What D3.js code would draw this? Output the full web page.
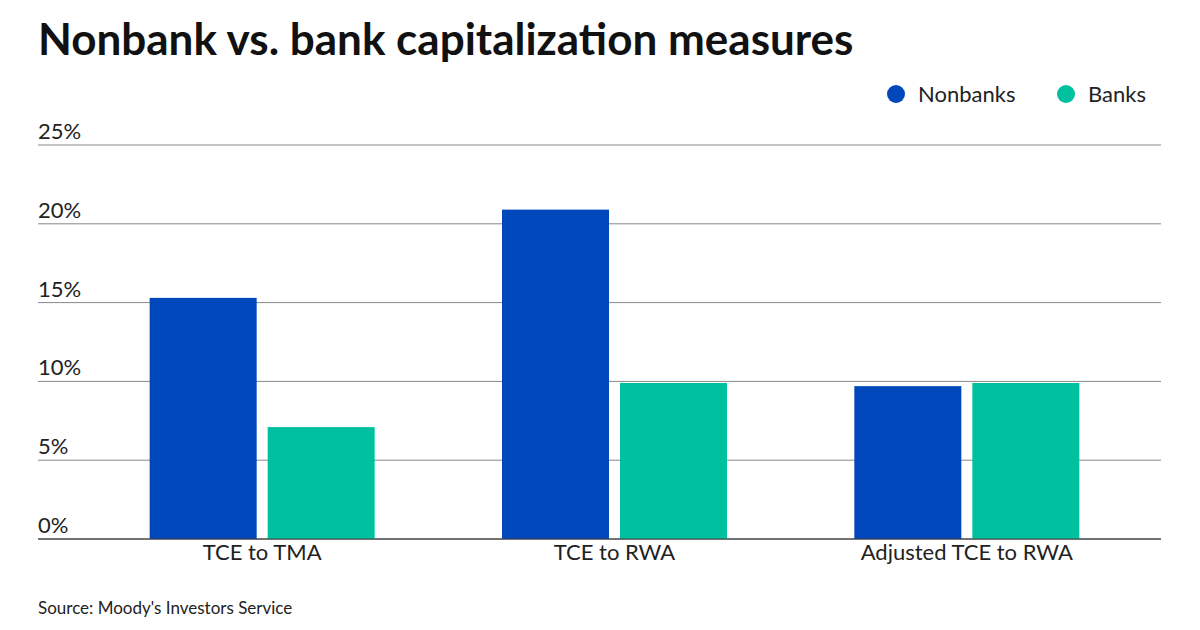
<!DOCTYPE html>
<html><head><meta charset="utf-8">
<script src="https://cdn.jsdelivr.net/npm/d3@7"></script>
<style>body{margin:0;background:#fff}text{font-family:Lato,sans-serif}</style>
</head><body><svg id="c" width="1200" height="630"></svg>
<script>
const categories=["TCE to TMA","TCE to RWA","Adjusted TCE to RWA"];
const nonbanks=[15.3,20.9,9.7];
const banks=[7.1,9.9,9.9];
const ticks=[0,5,10,15,20,25];
const svg=d3.select("#c");
const y=d3.scaleLinear().domain([0,25]).range([539,145]);
const x=d3.scaleBand().domain(categories).range([86,1143]).padding(0);
const colors={Nonbanks:"#0047BB",Banks:"#00C19F"};
svg.append("text").attr("x",38).attr("y",55).attr("font-size",44).attr("font-weight",700).attr("fill","#111").text("Nonbank vs. bank capitalization measures");
ticks.forEach(t=>{
 svg.append("line").attr("x1",38).attr("x2",1161).attr("y1",y(t)).attr("y2",y(t)).attr("stroke",t===0?"#444":"#888").attr("stroke-width",1);
 svg.append("text").attr("x",38).attr("y",y(t)-6).attr("font-size",22).attr("fill","#222").text(t+"%");
});
const bw=107,gap=11;
categories.forEach((c,i)=>{
 const cx=x(c)+x.bandwidth()/2;
 svg.append("rect").attr("x",cx-gap/2-bw).attr("width",bw).attr("y",y(nonbanks[i])).attr("height",y(0)-y(nonbanks[i])).attr("fill",colors.Nonbanks);
 svg.append("rect").attr("x",cx+gap/2).attr("width",bw).attr("y",y(banks[i])).attr("height",y(0)-y(banks[i])).attr("fill",colors.Banks);
 svg.append("text").attr("x",cx).attr("y",560).attr("text-anchor","middle").attr("font-size",22).attr("fill","#222").text(c);
});
svg.append("line").attr("x1",38).attr("x2",1161).attr("y1",y(0)).attr("y2",y(0)).attr("stroke","#444");
[["Nonbanks",896],["Banks",1066]].forEach(([n,lx])=>{
 svg.append("circle").attr("cx",lx).attr("cy",94).attr("r",9).attr("fill",colors[n]);
 svg.append("text").attr("x",lx+22).attr("y",102).attr("font-size",22).attr("fill","#222").text(n);
});
svg.append("text").attr("x",38).attr("y",614).attr("font-size",17).attr("fill","#222").text("Source: Moody's Investors Service");
</script></body></html>
